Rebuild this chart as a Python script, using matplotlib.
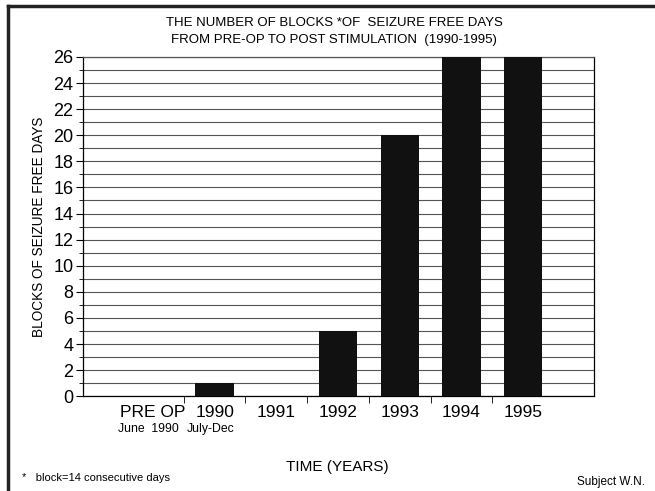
import numpy as np
import matplotlib
matplotlib.use('Agg')
import matplotlib.pyplot as plt
from matplotlib.ticker import MultipleLocator, FixedLocator

plt.rcParams['font.family'] = ['Liberation Sans', 'DejaVu Sans']

categories = ['PRE OP', '1990', '1991', '1992', '1993', '1994', '1995']
sublabels = ['June  1990', 'July-Dec', '', '', '', '', '']
blocks = [0, 1, 0, 5, 20, 26, 26]

fig = plt.figure(figsize=(6.55, 4.91), dpi=100)
ax = fig.add_axes([0.127, 0.193, 0.78, 0.691])

x = np.arange(len(categories))
ax.bar(x, blocks, width=0.62, color='#111111', zorder=3)

ax.set_xlim(-1.13, 7.15)
ax.set_ylim(0, 26)

# grid every block, labels every 2
ax.yaxis.set_major_locator(MultipleLocator(2))
ax.yaxis.set_minor_locator(MultipleLocator(1))
ax.grid(axis='y', which='both', color='#555555', linewidth=0.8, zorder=0)
ax.tick_params(axis='y', which='major', length=5, labelsize=13, pad=2)
ax.tick_params(axis='y', which='minor', length=3)

ax.set_xticks(x)
ax.set_xticklabels(categories, fontsize=12.5)
ax.xaxis.set_minor_locator(FixedLocator(x[:-1] + 0.5))
ax.tick_params(axis='x', which='major', length=0, pad=6)
ax.tick_params(axis='x', which='minor', length=5)

for i, s in enumerate(sublabels):
    if s:
        ax.annotate(s, xy=(i, 0), xytext=(-3, -28), textcoords='offset points',
                    ha='center', va='bottom', fontsize=8.8)

for sp in ax.spines.values():
    sp.set_linewidth(0.9)
ax.spines['top'].set_color('#555555')

ax.set_ylabel('BLOCKS OF SEIZURE FREE DAYS', fontsize=9.8, labelpad=5)

fig.text(0.51, 0.953, 'THE NUMBER OF BLOCKS *OF  SEIZURE FREE DAYS',
         ha='center', va='center', fontsize=9.5)
fig.text(0.51, 0.918, 'FROM PRE-OP TO POST STIMULATION  (1990-1995)',
         ha='center', va='center', fontsize=9.5)
fig.text(0.515, 0.049, 'TIME (YEARS)', ha='center', va='center', fontsize=11)
fig.text(0.033, 0.027, '*   block=14 consecutive days', ha='left', va='center', fontsize=8)
fig.text(0.985, 0.018, 'Subject W.N.', ha='right', va='center', fontsize=8.5)

# scan frame: top and left border lines
fig.add_artist(plt.Line2D([0.012, 1.0], [0.988, 0.988], color='#222222', linewidth=2.5))
fig.add_artist(plt.Line2D([0.012, 0.012], [0.0, 0.988], color='#222222', linewidth=2.5))

fig.savefig('out.png', dpi=100)
